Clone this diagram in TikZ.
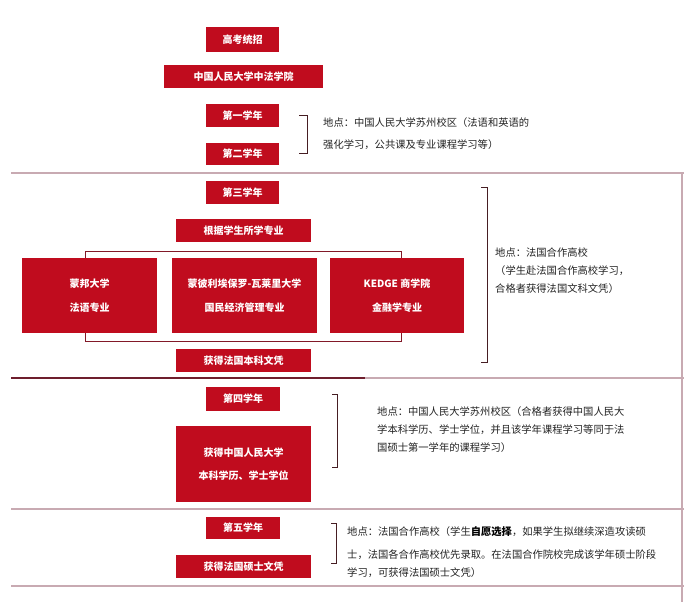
\documentclass[tikz,border=0pt]{standalone}
\usepackage{fontspec}
\setmainfont{Noto Sans CJK SC}
\definecolor{boxred}{RGB}{192,12,30}
\definecolor{frame}{RGB}{130,25,40}
\definecolor{brk}{RGB}{70,30,35}
\definecolor{sep}{RGB}{200,170,178}
\definecolor{sepdark}{RGB}{110,30,45}
\definecolor{txt}{RGB}{35,35,35}
\tikzset{
  redbox/.style={fill=boxred, draw=none, text=white, font=\bfseries\fontsize{10}{12}\selectfont, inner sep=0pt, align=center},
  desc/.style={anchor=west, text=txt, font=\fontsize{10.3}{12}\selectfont, inner sep=0pt},
  sepline/.style={draw=sep, line width=1.1pt},
  bracket/.style={draw=brk, line width=0.9pt},
  framel/.style={draw=frame, line width=0.9pt}
}
\begin{document}
\begin{tikzpicture}[x=1pt,y=-1pt]
\useasboundingbox (0,0) rectangle (684,602);
\fill[white] (0,0) rectangle (684,602);

% separators and right border
\draw[sepline] (11,173) -- (684,173);
\draw[draw=sepdark, line width=1.1pt] (11,378) -- (365,378);
\draw[sepline] (365,378) -- (684,378);
\draw[sepline] (11,509) -- (684,509);
\draw[sepline] (11,586) -- (684,586);
\draw[sepline] (682,173) -- (682,602);

% boxes
\node[redbox, minimum width=73pt, minimum height=24pt] (gk) at (242.5,39.5) {高考统招};
\node[redbox, minimum width=159pt, minimum height=23pt] (zf) at (243.5,76.5) {中国人民大学中法学院};
\node[redbox, minimum width=73pt, minimum height=23pt] (y1) at (242.5,115.5) {第一学年};
\node[redbox, minimum width=73pt, minimum height=22pt] (y2) at (242.5,154) {第二学年};
\node[redbox, minimum width=73pt, minimum height=23pt] (y3) at (242.5,192.5) {第三学年};
\node[redbox, minimum width=135pt, minimum height=23pt] (major) at (243.5,230.5) {根据学生所学专业};
\node[redbox, minimum width=135pt, minimum height=75pt] (mb) at (89.5,295.5) {蒙邦大学\\[12pt]法语专业};
\node[redbox, minimum width=145pt, minimum height=75pt] (mp) at (244.5,295.5) {蒙彼利埃保罗-瓦莱里大学\\[12pt]国民经济管理专业};
\node[redbox, minimum width=134pt, minimum height=75pt] (kd) at (397,295.5) {KEDGE 商学院\\[12pt]金融学专业};
\node[redbox, minimum width=135pt, minimum height=23pt] (fb) at (243.5,360.5) {获得法国本科文凭};
\node[redbox, minimum width=74pt, minimum height=24pt] (y4) at (243,399) {第四学年};
\node[redbox, minimum width=135pt, minimum height=76pt] (rmd) at (243.5,464) {获得中国人民大学\\[11pt]本科学历、学士学位};
\node[redbox, minimum width=74pt, minimum height=22pt] (y5) at (243,528) {第五学年};
\node[redbox, minimum width=135pt, minimum height=23pt] (ms) at (243.5,566.5) {获得法国硕士文凭};

% frame connecting the three universities
\draw[framel] ([xshift=-4.5pt]mb.north) -- ++(0,-6) -| ([xshift=4pt]kd.north);
\draw[framel] ([xshift=-4.5pt]mb.south) -- ++(0,8) -| ([xshift=4pt]kd.south);

% brackets
\draw[bracket] (299,115) -| (307,153) -- (299,153);
\draw[bracket] (481,187) -| (487,362) -- (481,362);
\draw[bracket] (332,394) -| (337,467) -- (332,467);
\draw[bracket] (331,523) -| (336,563) -- (331,563);

% descriptions
\node[desc] (d1a) at (323,123) {地点：中国人民大学苏州校区（法语和英语的};
\node[desc] (d1b) at (323,145) {强化学习，公共课及专业课程学习等）};

\node[desc] (d3a) at (495,253) {地点：法国合作高校};
\node[desc] (d3b) at (495,271) {（学生赴法国合作高校学习，};
\node[desc] (d3c) at (495,289) {合格者获得法国文科文凭）};

\node[desc] (d4a) at (377,412) {地点：中国人民大学苏州校区（合格者获得中国人民大};
\node[desc] (d4b) at (377,430) {学本科学历、学士学位，并且该学年课程学习等同于法};
\node[desc] (d4c) at (377,448) {国硕士第一学年的课程学习）};

\node[desc] (d5a) at (347,532) {地点：法国合作高校（学生\textbf{\color{black}自愿选择}，如果学生拟继续深造攻读硕};
\node[desc] (d5b) at (347,555) {士，法国各合作高校优先录取。在法国合作院校完成该学年硕士阶段};
\node[desc] (d5c) at (347,573) {学习，可获得法国硕士文凭）};
\end{tikzpicture}
\end{document}
